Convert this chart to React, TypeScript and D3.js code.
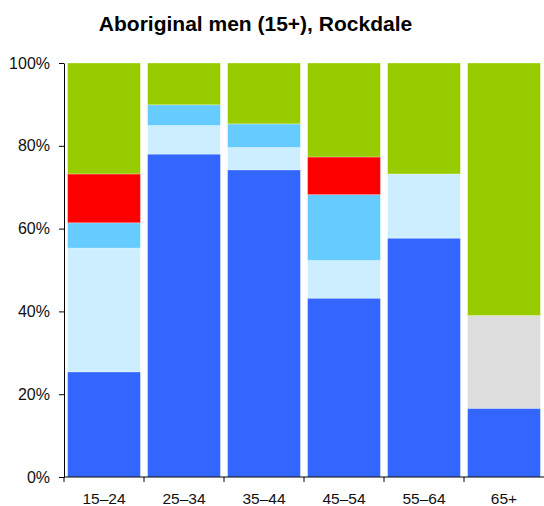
import { useEffect, useRef } from "react";
import * as d3 from "d3";

const categories = ["15–24", "25–34", "35–44", "45–54", "55–64", "65+"];
const seriesNames = ["blue", "pale", "sky", "red", "grey", "green"];
const blue = [25.4, 78.0, 74.2, 43.2, 57.7, 16.6];
const pale = [29.9, 6.9, 5.4, 9.1, 15.5, 0];
const sky = [6.1, 5.0, 5.7, 15.9, 0, 0];
const red = [11.8, 0, 0, 9.1, 0, 0];
const grey = [0, 0, 0, 0, 0, 22.4];
const green = [26.8, 10.1, 14.7, 22.7, 26.8, 61.0];
const colours = ["#3366ff", "#cceeff", "#66ccff", "#ff0000", "#dddddd", "#99cc00"];
const yTicks = [0, 20, 40, 60, 80, 100];

export default function App() {
  const svgRef = useRef<SVGSVGElement>(null);

  useEffect(() => {
    const width = 544;
    const height = 506;
    const left = 64, right = 544, top = 63, bottom = 477;
    const svg = d3.select(svgRef.current).attr("width", width).attr("height", height);
    svg.selectAll("*").remove();

    const rows = categories.map((c, i) => ({
      cat: c,
      blue: blue[i], pale: pale[i], sky: sky[i], red: red[i], grey: grey[i], green: green[i],
    }));
    const stacked = d3.stack<any>().keys(seriesNames)(rows);

    const x = d3.scaleBand().domain(categories).range([left, right]).paddingInner(0.09).paddingOuter(0.045);
    const y = d3.scaleLinear().domain([0, 100]).range([bottom, top]);

    // bars
    svg.append("g")
      .selectAll("g")
      .data(stacked)
      .join("g")
      .attr("fill", (d, i) => colours[i])
      .selectAll("rect")
      .data((d) => d.filter((p) => p[1] - p[0] > 0))
      .join("rect")
      .attr("x", (d: any) => x(d.data.cat)!)
      .attr("width", x.bandwidth())
      .attr("y", (d) => y(d[1]))
      .attr("height", (d) => y(d[0]) - y(d[1]))
      .attr("stroke", "#ffffff")
      .attr("stroke-opacity", 0.35)
      .attr("stroke-width", 0.8);

    // y axis
    const yAxis = svg.append("g").attr("transform", `translate(${left},0)`)
      .call(d3.axisLeft(y).tickValues(yTicks).tickFormat((d) => d + "%").tickSize(5).tickSizeOuter(0));
    yAxis.select(".domain").attr("stroke", "#000");
    yAxis.selectAll("text")
      .attr("font-family", "Liberation Sans, Arial, sans-serif")
      .attr("font-size", 16)
      .attr("fill", "#111")
      .attr("x", -14);

    // x axis
    const xAxis = svg.append("g").attr("transform", `translate(0,${bottom})`);
    xAxis.append("line")
      .attr("x1", left).attr("x2", right)
      .attr("stroke", "#000");
    const bounds = d3.range(categories.length).map((i) => left + (i * (right - left)) / categories.length);
    xAxis.selectAll("line.tick")
      .data(bounds)
      .join("line")
      .attr("class", "tick")
      .attr("x1", (d) => d).attr("x2", (d) => d)
      .attr("y1", 0).attr("y2", 5)
      .attr("stroke", "#000");
    xAxis.selectAll("text")
      .data(categories)
      .join("text")
      .attr("x", (d) => x(d)! + x.bandwidth() / 2)
      .attr("y", 27)
      .attr("text-anchor", "middle")
      .attr("font-family", "Liberation Sans, Arial, sans-serif")
      .attr("font-size", 15.5)
      .attr("fill", "#111")
      .text((d) => d);

    // title
    svg.append("text")
      .attr("x", 255.5)
      .attr("y", 31)
      .attr("text-anchor", "middle")
      .attr("font-family", "Liberation Sans, Arial, sans-serif")
      .attr("font-weight", "bold")
      .attr("font-size", 21)
      .attr("fill", "#000")
      .text("Aboriginal men (15+), Rockdale");
  }, []);

  return (
    <div style={{ position: "absolute", left: 0, top: 0 }}>
      <svg ref={svgRef} style={{ display: "block", background: "#fff" }}></svg>
    </div>
  );
}
